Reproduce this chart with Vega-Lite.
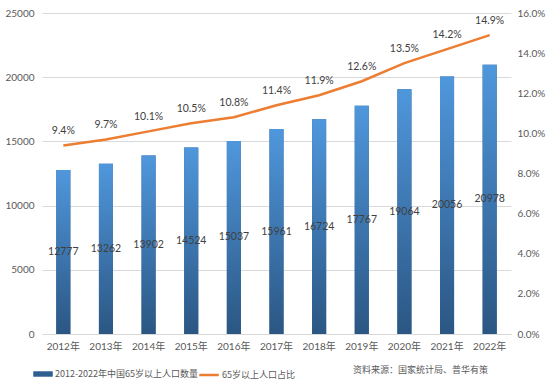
{
  "$schema": "https://vega.github.io/schema/vega-lite/v6.json",
  "width": 469,
  "height": 321,
  "autosize": {"type": "none"},
  "padding": {"left": 42, "top": 13, "right": 43, "bottom": 54},
  "background": "white",
  "config": {
    "view": {"stroke": null},
    "font": "Lato, Noto Sans CJK SC",
    "axis": {"labelFont": "Lato, Noto Sans CJK SC", "labelFontSize": 10, "labelColor": "#595959", "ticks": false, "domain": false, "title": null, "gridColor": "#d9d9d9", "gridWidth": 1}
  },
  "title": {
    "text": "资料来源：国家统计局、普华有策",
    "orient": "bottom",
    "anchor": "end",
    "frame": "group",
    "font": "Noto Sans CJK SC",
    "fontSize": 9,
    "fontWeight": "normal",
    "color": "#595959",
    "dx": -23,
    "offset": -14
  },
  "data": {
    "values": [
      {"year": "2012年", "count": 12777, "pct": 0.094, "s1": "2012-2022年中国65岁以上人口数量", "s2": "65岁以上人口占比"},
      {"year": "2013年", "count": 13262, "pct": 0.097, "s1": "2012-2022年中国65岁以上人口数量", "s2": "65岁以上人口占比"},
      {"year": "2014年", "count": 13902, "pct": 0.101, "s1": "2012-2022年中国65岁以上人口数量", "s2": "65岁以上人口占比"},
      {"year": "2015年", "count": 14524, "pct": 0.105, "s1": "2012-2022年中国65岁以上人口数量", "s2": "65岁以上人口占比"},
      {"year": "2016年", "count": 15037, "pct": 0.108, "s1": "2012-2022年中国65岁以上人口数量", "s2": "65岁以上人口占比"},
      {"year": "2017年", "count": 15961, "pct": 0.114, "s1": "2012-2022年中国65岁以上人口数量", "s2": "65岁以上人口占比"},
      {"year": "2018年", "count": 16724, "pct": 0.119, "s1": "2012-2022年中国65岁以上人口数量", "s2": "65岁以上人口占比"},
      {"year": "2019年", "count": 17767, "pct": 0.126, "s1": "2012-2022年中国65岁以上人口数量", "s2": "65岁以上人口占比"},
      {"year": "2020年", "count": 19064, "pct": 0.135, "s1": "2012-2022年中国65岁以上人口数量", "s2": "65岁以上人口占比"},
      {"year": "2021年", "count": 20056, "pct": 0.142, "s1": "2012-2022年中国65岁以上人口数量", "s2": "65岁以上人口占比"},
      {"year": "2022年", "count": 20978, "pct": 0.149, "s1": "2012-2022年中国65岁以上人口数量", "s2": "65岁以上人口占比"}
    ]
  },
  "encoding": {
    "x": {
      "field": "year", "type": "ordinal", "sort": null,
      "scale": {"paddingInner": 0.67, "paddingOuter": 0.335},
      "axis": {"labelAngle": 0, "labelPadding": 7, "domain": true, "domainColor": "#d9d9d9", "grid": false}
    }
  },
  "layer": [
    {
      "encoding": {
        "y": {"field": "count", "type": "quantitative", "scale": {"domain": [0, 25000], "nice": false},
          "axis": {"values": [0, 5000, 10000, 15000, 20000, 25000], "format": "d", "grid": true, "labelPadding": 8, "orient": "left"}}
      },
      "layer": [
        {
          "mark": {"type": "bar"},
          "encoding": {
            "fill": {"field": "s1", "type": "nominal",
              "scale": {"range": ["#2e5f91"]},
              "legend": {"title": null, "orient": "none", "legendX": -9, "legendY": 351, "symbolType": "M-1,-0.28H1V0.28H-1Z", "symbolSize": 380, "symbolStrokeWidth": 0, "labelFont": "Noto Sans CJK SC", "labelFontSize": 9, "labelLimit": 400, "labelColor": "#595959", "labelOffset": 2}}
          }
        },
        {
          "mark": {"type": "bar", "fill": {"gradient": "linear", "x1": 0, "y1": 0, "x2": 0, "y2": 1, "stops": [{"offset": 0, "color": "#4f97dc"}, {"offset": 1, "color": "#2b5683"}]}},
          "encoding": {}
        }
      ]
    },
    {
      "mark": {"type": "text", "fontSize": 10.5, "color": "#404040", "font": "Lato"},
      "encoding": {
        "y": {"field": "count", "type": "quantitative", "scale": {"domain": [0, 50000], "nice": false}, "axis": null},
        "text": {"field": "count", "type": "quantitative", "format": "d"}
      }
    },
    {
      "mark": {"type": "line", "strokeWidth": 2.5},
      "encoding": {
        "y": {"field": "pct", "type": "quantitative", "scale": {"domain": [0, 0.16], "nice": false},
          "axis": {"orient": "right", "format": ".1%", "values": [0, 0.02, 0.04, 0.06, 0.08, 0.1, 0.12, 0.14, 0.16], "grid": false, "labelPadding": 6}},
        "stroke": {"field": "s2", "type": "nominal", "scale": {"range": ["#ed7d31"]},
          "legend": {"title": null, "orient": "none", "legendX": 156, "legendY": 351, "symbolType": "stroke", "symbolSize": 380, "symbolStrokeWidth": 2.5, "labelFont": "Noto Sans CJK SC", "labelFontSize": 9, "labelLimit": 400, "labelColor": "#595959", "labelOffset": 2}}
      }
    },
    {
      "mark": {"type": "text", "fontSize": 10.5, "color": "#404040", "font": "Lato", "dy": -14},
      "encoding": {
        "y": {"field": "pct", "type": "quantitative", "scale": {"domain": [0, 0.16], "nice": false}, "axis": null},
        "text": {"field": "pct", "type": "quantitative", "format": ".1%"}
      }
    }
  ],
  "resolve": {"scale": {"y": "independent", "fill": "independent", "stroke": "independent"}}
}
